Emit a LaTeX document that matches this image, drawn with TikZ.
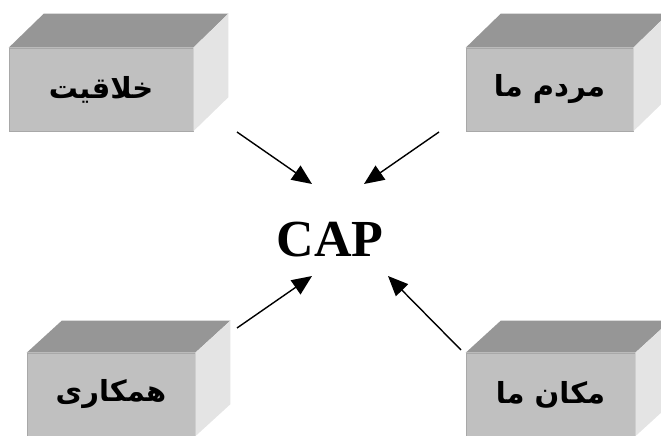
\documentclass[tikz,border=0pt]{standalone}
\usepackage{fontspec}
\setmainfont{Liberation Serif}
\newfontfamily\arabicfont[Script=Arabic]{DejaVu Sans}
\TeXXeTstate=1
\usetikzlibrary{arrows.meta,calc}
\definecolor{frontc}{HTML}{C0C0C0}
\definecolor{topc}{HTML}{969696}
\definecolor{sidec}{HTML}{E4E4E4}
\definecolor{edgec}{HTML}{A8A8A8}
\tikzset{
  front/.style={fill=frontc, draw=edgec, line width=0.6pt, inner sep=0pt, minimum height=83pt, font=\arabicfont\bfseries\fontsize{29}{34}\selectfont},
  conn/.style={line width=1.4pt, -{Triangle[length=20pt,width=17pt]}},
}
\begin{document}
\begin{tikzpicture}[x=1pt,y=-1pt]
\useasboundingbox (0,0) rectangle (661,436);
\clip (0,0) rectangle (661,436);
% boxes (front faces)
\node[front, minimum width=184pt] (b1) at (101,89.5) {\beginR خلاقیت\endR};
\node[front, minimum width=167pt] (b2) at (549.5,89.5) {\beginR مردم ما\endR};
\node[front, minimum width=168pt] (b3) at (111,394.5) {\beginR همکاری\endR};
\node[front, minimum width=169pt] (b4) at (550.5,394.5) {\beginR مکان ما\endR};
\fill[topc] (b1.north west) -- ++(35,-34) -- ($(b1.north east)+(35,-34)$) -- (b1.north east) -- cycle;
\fill[sidec] (b1.north east) -- ++(35,-34) -- ($(b1.south east)+(35,-34)$) -- (b1.south east) -- cycle;
\fill[topc] (b2.north west) -- ++(35,-34) -- ($(b2.north east)+(35,-34)$) -- (b2.north east) -- cycle;
\fill[sidec] (b2.north east) -- ++(35,-34) -- ($(b2.south east)+(35,-34)$) -- (b2.south east) -- cycle;
\fill[topc] (b3.north west) -- ++(35,-32) -- ($(b3.north east)+(35,-32)$) -- (b3.north east) -- cycle;
\fill[sidec] (b3.north east) -- ++(35,-32) -- ($(b3.south east)+(35,-32)$) -- (b3.south east) -- cycle;
\fill[topc] (b4.north west) -- ++(35,-32) -- ($(b4.north east)+(35,-32)$) -- (b4.north east) -- cycle;
\fill[sidec] (b4.north east) -- ++(35,-32) -- ($(b4.south east)+(35,-32)$) -- (b4.south east) -- cycle;
% centre
\node[font=\bfseries\fontsize{52}{60}\selectfont, inner sep=0pt] (cap) at (330,240) {CAP};
% arrow ends
\coordinate (s1) at (237,132); \coordinate (e1) at (312,184);
\coordinate (s2) at (439,132); \coordinate (e2) at (364,184);
\coordinate (s3) at (237,328); \coordinate (e3) at (312,276);
\coordinate (s4) at (461,350); \coordinate (e4) at (388,276);
\draw[conn] (s1) -- (e1);
\draw[conn] (s2) -- (e2);
\draw[conn] (s3) -- (e3);
\draw[conn] (s4) -- (e4);
\end{tikzpicture}
\end{document}
